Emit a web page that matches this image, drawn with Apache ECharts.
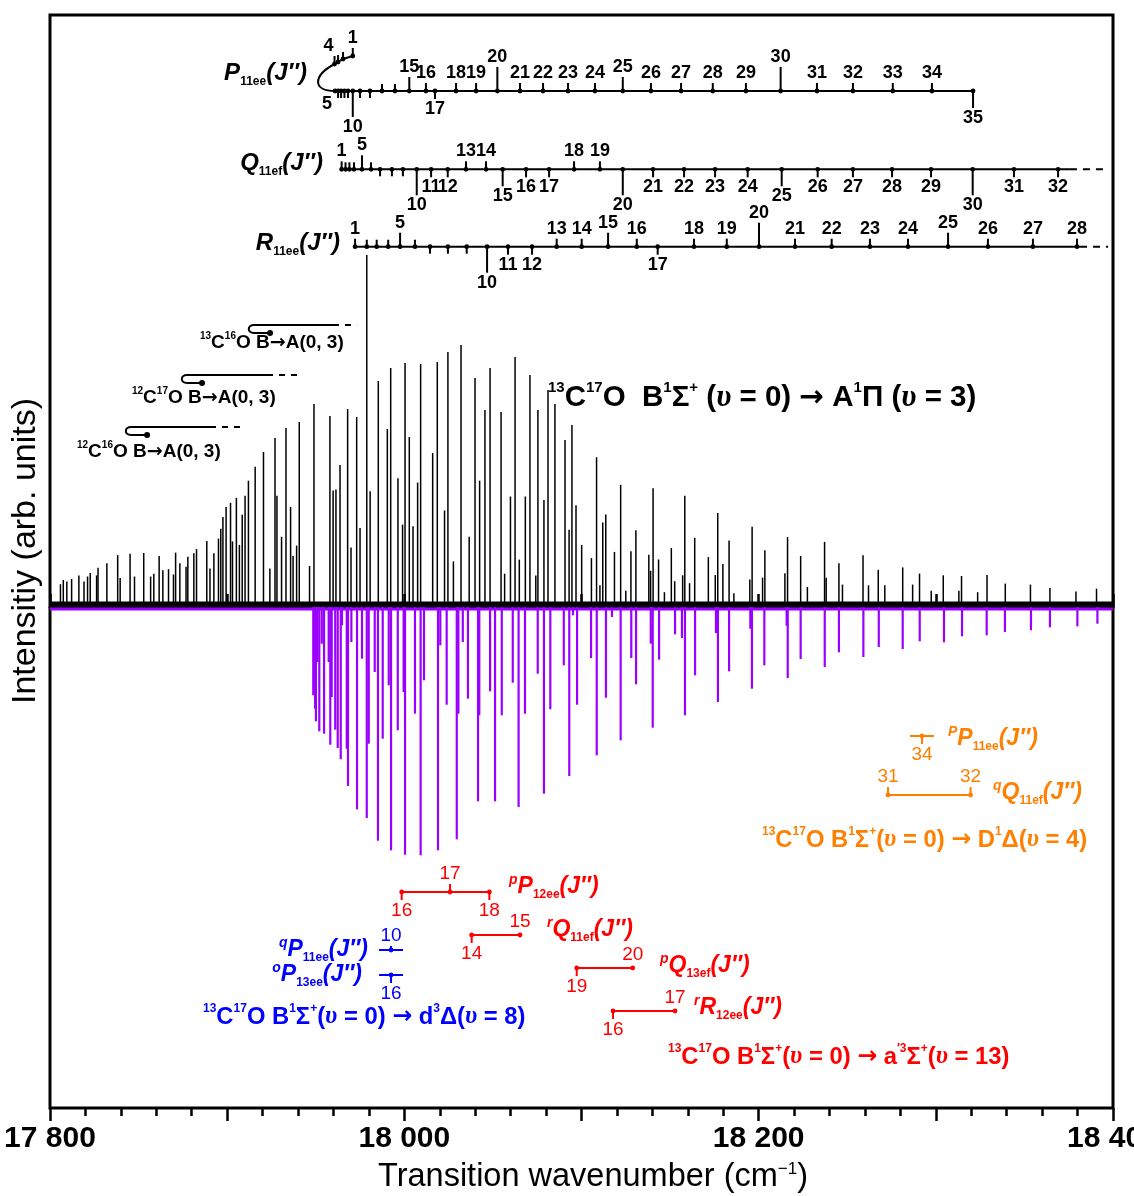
<!DOCTYPE html>
<html><head><meta charset="utf-8">
<script src="https://cdn.jsdelivr.net/npm/echarts@6/dist/echarts.min.js"></script>
<style>html,body{margin:0;padding:0;background:#fff}#c{width:1134px;height:1196px}</style>
</head><body><div id="c"></div><script>
// ---------------- DATA ----------------
const X_MIN = 17800, X_MAX = 18400;
const TICK_LABELS = {17800:'17 800', 18000:'18 000', 18200:'18 200', 18400:'18 400'};

// experimental spectrum (black), wavenumber (cm-1) and intensity (arb.)
const EXP_WN = [17805.9,17807.5,17809.5,17812.2,17816.3,17819.2,17821.2,17822.7,17826.3,17827.1,17832.1,17838.2,17839.6,17845.2,17847.7,17852.9,17856.8,17858.6,17861.6,17863.7,17866.9,17869.7,17870.9,17873.3,17876.8,17877.8,17881.2,17882.7,17888.5,17890.3,17892.5,17895.1,17896.4,17897.6,17899.4,17901.9,17903.0,17905.2,17906.9,17908.5,17910.1,17912.0,17915.8,17920.5,17924.1,17927.0,17928.1,17930.7,17933.2,17935.8,17937.2,17939.2,17940.7,17946.5,17949.0,17958.0,17959.8,17961.4,17963.7,17968.0,17969.9,17973.1,17975.0,17978.8,17980.7,17985.3,17990.4,17992.3,17996.4,17999.0,18000.4,18002.8,18004.9,18007.5,18009.2,18016.0,18018.6,18022.7,18024.6,18027.7,18032.0,18036.6,18039.9,18042.5,18045.5,18048.4,18054.6,18056.6,18059.9,18062.5,18064.9,18068.3,18070.9,18074.2,18075.4,18078.8,18081.1,18085.0,18090.7,18093.0,18094.6,18096.9,18100.1,18105.6,18108.5,18110.4,18112.0,18113.7,18118.6,18122.1,18125.0,18127.9,18130.7,18138.0,18139.0,18140.4,18143.5,18146.8,18150.7,18152.6,18157.1,18158.3,18161.0,18163.9,18171.6,18175.5,18176.9,18179.8,18183.3,18186.0,18195.0,18196.3,18202.2,18203.5,18214.8,18216.3,18223.7,18227.5,18237.2,18238.1,18245.3,18247.3,18258.9,18262.0,18267.5,18271.2,18281.3,18286.9,18290.8,18297.4,18304.2,18313.0,18314.5,18323.6,18328.9,18339.2,18353.4,18364.4,18379.1,18390.7];
const EXP_INT = [22.8,27.0,25.6,28.1,31.6,25.6,30.5,34.0,31.6,39.3,43.8,51.9,29.1,53.3,30.5,54.0,30.5,33.3,50.9,36.8,37.9,32.6,54.4,43.8,40.3,50.2,53.7,57.9,65.9,38.6,53.7,68.4,78.2,90.1,100.0,104.2,65.6,109.1,62.1,92.2,111.2,126.3,140.3,155,38.6,169,111.2,70.2,179,100.0,50.9,61.4,185,41.0,203,191,116.5,117.5,142,198,59.6,190,78.9,352,115.7,226,178,239,128.7,82.4,244,170,80.7,124.5,243,154,245,96.5,255,45.6,262,70.2,229,126.3,197,239,195,33.3,110.5,250,47.4,110.5,232,31.6,197,107.0,217,203,167,77.2,182,101.7,62.0,48.9,149.8,21.7,84.4,92.6,55.1,122.2,16.2,55.8,76.8,52.3,36.2,118.8,47.5,14.8,58.9,25.8,31.7,111.2,23.8,69.2,49.9,32.0,94.0,43.0,66.5,13.8,27.5,80.2,29.3,56.8,33.7,69.9,51.0,20.0,65.1,29.3,43.7,22.4,51.7,21.7,37.2,21.7,39.6,22.4,33.4,16.2,31.7,16.2,31.0,14.8,32.0,23.4,22.4,18.9,15.5,18.3];

// simulated spectrum (purple, drawn inverted)
const SIM_WN = [17948.6,17949.6,17950.1,17950.9,17952.0,17953.4,17954.7,17957.3,17958.2,17959.0,17961.0,17962.4,17964.1,17964.8,17967.5,17968.2,17970.1,17973.3,17976.1,17978.8,17979.9,17983.3,17985.1,17987.8,17991.2,17992.5,17996.3,17999.6,18000.4,18006.0,18009.2,18011.1,18019.0,18020.3,18023.9,18029.6,18030.5,18033.0,18035.9,18041.6,18042.3,18048.4,18051.2,18055.0,18061.2,18064.5,18068.1,18075.3,18078.8,18082.4,18090.0,18093.1,18095.2,18097.5,18105.4,18108.6,18113.8,18117.2,18122.1,18128.1,18130.8,18139.1,18140.2,18143.8,18152.8,18156.7,18158.4,18164.1,18175.9,18177.0,18183.3,18195.3,18196.2,18203.2,18215.8,18216.4,18223.7,18237.3,18245.3,18259.1,18267.8,18281.3,18290.9,18304.6,18314.8,18328.7,18339.0,18353.7,18364.4,18379.9,18391.2];
const SIM_INT = [88.3,101.7,114.3,55,124.3,36.7,126.7,55,137.7,90,122.7,141,152.3,18.3,141.7,179,35,202.3,51.7,211,136.7,65,233.7,131.7,78.3,243.3,123.3,85,247.7,106.7,248.3,73.3,243.3,38.3,97.7,232.3,106.7,35,91.7,194.3,108.3,84.3,194.3,108.3,75.7,200,106.7,66.7,186.7,102.3,58.3,169,8.3,97.7,51,148.3,90.7,10,133.3,51,77.3,36.7,120.7,52.7,27.3,31,108.3,68.3,26,95,64.3,21.7,81.7,58.3,18.7,71,52,60,45.3,50,40,42,34.3,35.3,29.3,28.3,25,23.3,20.3,19.3,16.7];

// assignment ladders of 13C17O B-A(0,3): J'' and line positions (cm-1)
const P_J  = [1,2,3,4,5,6,7,8,9,10,11,12,13,14,15,16,17,18,19,20,21,22,23,24,25,26,27,28,29,30,31,32,33,34,35];
const P_WN = [17970.9,17965.4,17962.6,17960.6,17960.9,17962.6,17964.3,17966.2,17968.2,17970.9,17975.0,17980.6,17987.4,17994.7,18002.8,18012.2,18017.3,18029.2,18040.5,18052.5,18065.3,18078.3,18092.4,18107.6,18123.3,18139.2,18156.2,18174.1,18192.8,18212.4,18232.9,18253.2,18275.7,18297.8,18321.0];
const Q_J  = [1,2,3,4,5,6,7,8,9,10,11,12,13,14,15,16,17,18,19,20,21,22,23,24,25,26,27,28,29,30,31,32];
const Q_WN = [17964.6,17966.8,17969.0,17971.6,17976.1,17981.2,17986.3,17993.0,17999.2,18007.0,18015.1,18024.5,18034.8,18046.1,18055.5,18068.7,18081.7,18095.8,18110.4,18123.3,18140.4,18157.9,18175.4,18193.8,18213.0,18233.3,18253.2,18275.3,18297.3,18320.8,18344.1,18369.0];
const R_J  = [1,2,3,4,5,6,7,8,9,10,11,12,13,14,15,16,17,18,19,20,21,22,23,24,25,26,27,28];
const R_WN = [17972.2,17978.8,17984.4,17990.9,17997.6,18006.0,18014.5,18024.6,18035.2,18046.7,18058.5,18072.1,18086.0,18100.1,18115.0,18131.2,18143.0,18163.5,18182.0,18200.2,18220.5,18241.2,18262.8,18284.3,18306.9,18329.4,18354.8,18379.7];
const Q_LINE_END = 18375.7, Q_DASH_END = 18394.4;
const R_LINE_END = 18381.4, R_DASH_END = 18397.2;

// perturbing-state lines
const D_PP_J = [34],     D_PP_WN = [18292.2];
const D_QQ_J = [31,32],  D_QQ_WN = [18273.0,18319.6];
const A_PP_J = [16,17,18], A_PP_WN = [17998.5,18025.8,18048.0];
const A_RQ_J = [14,15],  A_RQ_WN = [18038.0,18065.3];
const A_PQ_J = [19,20],  A_PQ_WN = [18097.3,18128.9];
const A_RR_J = [16,17],  A_RR_WN = [18117.8,18152.8];
const d_QP_J = [10],     d_QP_WN = [17992.5];
const d_OP_J = [16],     d_OP_WN = [17992.5];

// band-origin hooks of other isotopologues (cm-1)
const HOOK_FROM = [17912.9,17875.1,17843.5];
const HOOK_TO   = [17959.7,17922.5,17890.3];
const HOOK_DASH = [17973.3,17941.1,17908.9];
const HOOK_DOT  = [17924.2,17885.8,17854.8];

// ---------------- LAYOUT / STYLE ----------------
const F = '"Liberation Sans", Arial, sans-serif';
const PURPLE = '#9b00ff', ORANGE = '#ff7f00', RED = '#ff0000', BLUE = '#0000ff';
const HOOK_Y = [325, 375, 427];
// tick codes: [direction(-1 up, 1 down), length, labelled]
const TICK = { a:[-1,7,0], b:[-1,8,1], c:[-1,14,1], d:[-1,24,1], k:[-1,4,1], y:[-1,0,1],
               e:[1,7,0], f:[1,8,1], g:[1,17,1], h:[1,26,1], z:[1,0,1] };
const P_CODES = 'baabzeeeeheeaacbfbbdbbbbcbbbbdbbbbg';
const Q_CODES = 'baaacaeeehffbbgffbbhffffgffffhff';
const R_CODES = 'baaacaeeehffbbcbfbbdbbbbcbbb';
const P_YOFF = [-35,-32,-29,-27];
const P_LABDX = {3:-6, 4:-8};

const chart = echarts.init(document.getElementById('c'), null, {width:1134, height:1196});

function ln(x1,y1,x2,y2,c,w,dash){
  return {type:'line', shape:{x1,y1,x2,y2}, style:{stroke:c, lineWidth:w, lineDash:dash||null}};
}

function sticks(wn, val, sign, color, width, z){
  return {type:'custom', xAxisIndex:0, yAxisIndex:0, silent:true, z, animation:false,
    data: wn.map((w,i)=>[w, sign*val[i]]),
    renderItem(params, api){
      const p0 = api.coord([api.value(0), 0]);
      const p1 = api.coord([api.value(0), api.value(1)]);
      return ln(p0[0],p0[1],p1[0],p1[1],color,width);
    }};
}

function ladder(cfg){
  return {type:'custom', xAxisIndex:0, yAxisIndex:0, silent:true, z:20, clip:false, animation:false,
    data: cfg.wn.map(w=>[w,0]),
    renderItem(params, api){
      const i = params.dataIndex;
      const X = w => api.coord([w,0])[0];
      const c = cfg.color, lw = cfg.lw || 2;
      const els = [];
      if (i === 0){
        if (cfg.from != null) els.push(ln(X(cfg.from), cfg.y, X(cfg.to), cfg.y, c, lw));
        if (cfg.dashTo != null) els.push(ln(X(cfg.to), cfg.y, X(cfg.dashTo), cfg.y, c, lw, [7,6]));
        if (cfg.special) els.push(...cfg.special(X));
      }
      const x = X(cfg.wn[i]);
      const y = cfg.y + (cfg.yOff ? (cfg.yOff[i] || 0) : 0);
      if (cfg.half) els.push(ln(x-cfg.half, y, x+cfg.half, y, c, lw));
      const t = TICK[cfg.codes[i]];
      const dir = t[0], len = t[1];
      if (len > 0) els.push(ln(x, y, x, y+dir*len, c, lw));
      els.push({type:'circle', shape:{cx:x, cy:y, r:cfg.r || 2.4}, style:{fill:c}});
      if (t[2]){
        const dx = cfg.labDx ? (cfg.labDx[i] || 0) : 0;
        const gap = len === 0 ? 4 : 1;
        els.push({type:'text', x:x+dx, y: dir<0 ? y-len-gap : y+len+gap,
          style:{text:String(cfg.j[i]), fill:c, font:cfg.font, align:'center', verticalAlign: dir<0 ? 'bottom' : 'top'}});
      }
      return {type:'group', children:els};
    }};
}

const hookSeries = {type:'custom', xAxisIndex:0, yAxisIndex:0, silent:true, z:20, clip:false, animation:false,
  data: HOOK_FROM.map(w=>[w,0]),
  renderItem(params, api){
    const i = params.dataIndex, X = w => api.coord([w,0])[0];
    const y = HOOK_Y[i], a = X(HOOK_FROM[i]), b = X(HOOK_TO[i]), d = X(HOOK_DASH[i]), p = X(HOOK_DOT[i]);
    return {type:'group', children:[
      ln(b, y, a+4, y, '#000', 2),
      {type:'bezierCurve', shape:{x1:a+4,y1:y,cpx1:a-3,cpy1:y,cpx2:a-3,cpy2:y+8,x2:a+4,y2:y+8}, style:{stroke:'#000', lineWidth:2, fill:null}},
      ln(a+4, y+8, p, y+8, '#000', 2),
      {type:'circle', shape:{cx:p, cy:y+8, r:3}, style:{fill:'#000'}},
      ln(b, y, d, y, '#000', 2, [6,6])
    ]};
  }};

const numBold = 'bold 18px ' + F;
const numReg = '19px ' + F;

const series = [
  sticks(EXP_WN, EXP_INT, 1, '#000', 1.5, 5),
  sticks(SIM_WN, SIM_INT, -1, PURPLE, 2.2, 4),
  {type:'line', xAxisIndex:0, yAxisIndex:0, silent:true, symbol:'none', z:6, animation:false,
   data:[[X_MIN,-2],[X_MAX,-2]], lineStyle:{color:PURPLE, width:3}},
  {type:'line', xAxisIndex:0, yAxisIndex:0, silent:true, symbol:'none', z:7, animation:false,
   data:[[X_MIN,3],[X_MAX,3]], lineStyle:{color:'#000', width:5}},
  ladder({wn:P_WN, j:P_J, codes:P_CODES, y:91, color:'#000', font:numBold, from:P_WN[4], to:P_WN[34],
    yOff:P_YOFF, labDx:P_LABDX,
    special:(X)=>{
      const pts = [0,1,2,3].map(k=>[X(P_WN[k]), 91+P_YOFF[k]]);
      const x5 = X(P_WN[4]);
      return [
        {type:'polyline', shape:{points:pts}, style:{stroke:'#000', lineWidth:2, fill:null}},
        {type:'bezierCurve', shape:{x1:pts[3][0], y1:pts[3][1], cpx1:pts[3][0]-22, cpy1:pts[3][1]+12, cpx2:pts[3][0]-22, cpy2:91, x2:x5, y2:91}, style:{stroke:'#000', lineWidth:2, fill:null}}
      ];
    }}),
  ladder({wn:Q_WN, j:Q_J, codes:Q_CODES, y:169.3, color:'#000', font:numBold, from:Q_WN[0], to:Q_LINE_END, dashTo:Q_DASH_END}),
  ladder({wn:R_WN, j:R_J, codes:R_CODES, y:246.7, color:'#000', font:numBold, from:R_WN[0], to:R_LINE_END, dashTo:R_DASH_END}),
  ladder({wn:D_PP_WN, j:D_PP_J, codes:'f', y:736, color:ORANGE, font:numReg, half:12}),
  ladder({wn:D_QQ_WN, j:D_QQ_J, codes:'bb', y:795, color:ORANGE, font:numReg, from:D_QQ_WN[0], to:D_QQ_WN[1]}),
  ladder({wn:A_PP_WN, j:A_PP_J, codes:'fbf', y:892, color:RED, font:numReg, from:A_PP_WN[0], to:A_PP_WN[2]}),
  ladder({wn:A_RQ_WN, j:A_RQ_J, codes:'fy', y:935, color:RED, font:numReg, from:A_RQ_WN[0], to:A_RQ_WN[1]}),
  ladder({wn:A_PQ_WN, j:A_PQ_J, codes:'fy', y:968, color:RED, font:numReg, from:A_PQ_WN[0], to:A_PQ_WN[1]}),
  ladder({wn:A_RR_WN, j:A_RR_J, codes:'fy', y:1011, color:RED, font:numReg, from:A_RR_WN[0], to:A_RR_WN[1]}),
  ladder({wn:d_QP_WN, j:d_QP_J, codes:'k', y:950, color:BLUE, font:numReg, half:12}),
  ladder({wn:d_OP_WN, j:d_OP_J, codes:'f', y:975, color:BLUE, font:numReg, half:12}),
  hookSeries
];

// rich text styles
function rich(size, color){
  const s = size;
  return {
    n:{fontSize:s, fontWeight:'bold', fontFamily:F, fill:color, lineHeight:s*1.2},
    i:{fontSize:s, fontWeight:'bold', fontStyle:'italic', fontFamily:F, fill:color, lineHeight:s*1.2},
    ar:{fontSize:s, fontWeight:'bold', fontFamily:'"DejaVu Sans", sans-serif', fill:color, lineHeight:s*1.2},
    sup:{fontSize:Math.round(s*0.52), fontWeight:'bold', fontFamily:F, fill:color, lineHeight:Math.round(s*0.55), verticalAlign:'top'},
    supi:{fontSize:Math.round(s*0.6), fontWeight:'bold', fontStyle:'italic', fontFamily:F, fill:color, lineHeight:Math.round(s*0.6), verticalAlign:'top'},
    sub:{fontSize:Math.round(s*0.5), fontWeight:'bold', fontFamily:F, fill:color, lineHeight:Math.round(s*0.5), verticalAlign:'bottom'},
    u:{fontSize:Math.round(s*1.05), fontWeight:'bold', fontStyle:'italic', fontFamily:'"Liberation Serif", "DejaVu Serif", serif', fill:color, lineHeight:s*1.2}
  };
}
function txt(x, y, text, size, color, align){
  return {type:'text', x, y, z:100, silent:true,
    style:{text, rich:rich(size,color), fill:color, align:align||'left', verticalAlign:'middle'}};
}
const J2 = '{i|(J′′)}';
const graphic = [
  txt(307, 73, '{i|P}{sub|11ee}' + J2, 24, '#000', 'right'),
  txt(323, 163, '{i|Q}{sub|11ef}' + J2, 24, '#000', 'right'),
  txt(340, 243, '{i|R}{sub|11ee}' + J2, 24, '#000', 'right'),
  txt(200, 343, '{sup|13}{n|C}{sup|16}{n|O B}{ar|→}{n|A(0, 3)}', 19, '#000'),
  txt(132, 398, '{sup|12}{n|C}{sup|17}{n|O B}{ar|→}{n|A(0, 3)}', 19, '#000'),
  txt(77, 452, '{sup|12}{n|C}{sup|16}{n|O B}{ar|→}{n|A(0, 3)}', 19, '#000'),
  txt(548, 398, '{sup|13}{n|C}{sup|17}{n|O  B}{sup|1}{n|Σ}{sup|+}{n| (}{u|υ}{n| = 0) }{ar|→}{n| A}{sup|1}{n|Π (}{u|υ}{n| = 3)}', 29.5, '#000'),
  txt(948, 739, '{supi|P}{i|P}{sub|11ee}' + J2, 23, ORANGE),
  txt(993, 793, '{supi|q}{i|Q}{sub|11ef}' + J2, 23, ORANGE),
  txt(762, 840, '{sup|13}{n|C}{sup|17}{n|O B}{sup|1}{n|Σ}{sup|+}{n|(}{u|υ}{n| = 0) }{ar|→}{n| D}{sup|1}{n|Δ(}{u|υ}{n| = 4)}', 23.8, ORANGE),
  txt(509, 887, '{supi|p}{i|P}{sub|12ee}' + J2, 23, RED),
  txt(547, 930, '{supi|r}{i|Q}{sub|11ef}' + J2, 23, RED),
  txt(660, 966, '{supi|p}{i|Q}{sub|13ef}' + J2, 23, RED),
  txt(694, 1008, '{supi|r}{i|R}{sub|12ee}' + J2, 23, RED),
  txt(668, 1057, '{sup|13}{n|C}{sup|17}{n|O B}{sup|1}{n|Σ}{sup|+}{n|(}{u|υ}{n| = 0) }{ar|→}{n| a}{sup|′3}{n|Σ}{sup|+}{n|(}{u|υ}{n| = 13)}', 23.8, RED),
  txt(368, 950, '{supi|q}{i|P}{sub|11ee}' + J2, 23, BLUE, 'right'),
  txt(362, 975, '{supi|o}{i|P}{sub|13ee}' + J2, 23, BLUE, 'right'),
  txt(203, 1017, '{sup|13}{n|C}{sup|17}{n|O B}{sup|1}{n|Σ}{sup|+}{n|(}{u|υ}{n| = 0) }{ar|→}{n| d}{sup|3}{n|Δ(}{u|υ}{n| = 8)}', 23.8, BLUE),
  {type:'text', x:26, y:551, rotation:Math.PI/2, z:100, silent:true,
   style:{text:'Intensitiy (arb. units)', font:'34px ' + F, fill:'#000', align:'center', verticalAlign:'middle'}},
  {type:'text', x:593, y:1177, z:100, silent:true,
   style:{text:'Transition wavenumber (cm{s|−1})', font:'32.5px ' + F, fill:'#000', align:'center', verticalAlign:'middle',
          rich:{s:{fontSize:17, fontFamily:F, fill:'#000', verticalAlign:'top', lineHeight:17}}}}
];

const option = {
  animation:false,
  backgroundColor:'#fff',
  grid:{left:50, right:21, top:15, bottom:88, show:true, borderColor:'#000', borderWidth:3,
        backgroundColor:'transparent', containLabel:false, outerBoundsMode:'none'},
  xAxis:[
    {type:'value', min:X_MIN, max:X_MAX, interval:100, position:'bottom',
     axisLine:{show:true, lineStyle:{color:'#000', width:3}},
     axisTick:{show:true, inside:true, length:13, lineStyle:{color:'#000', width:2.5}},
     axisLabel:{show:false}, splitLine:{show:false}},
    {type:'value', min:X_MIN, max:X_MAX, interval:100, position:'bottom',
     axisLine:{show:false},
     axisTick:{show:true, inside:false, length:13, lineStyle:{color:'#000', width:2.5}},
     minorTick:{show:true, splitNumber:5, length:8, lineStyle:{color:'#000', width:2.5}},
     axisLabel:{show:true, margin:16, fontSize:30, fontWeight:'bold', fontFamily:F, color:'#000',
       formatter:v => TICK_LABELS[v] || ''},
     splitLine:{show:false}}
  ],
  yAxis:{type:'value', min:-501, max:592, show:false},
  series,
  graphic
};
chart.setOption(option);
</script></body></html>
